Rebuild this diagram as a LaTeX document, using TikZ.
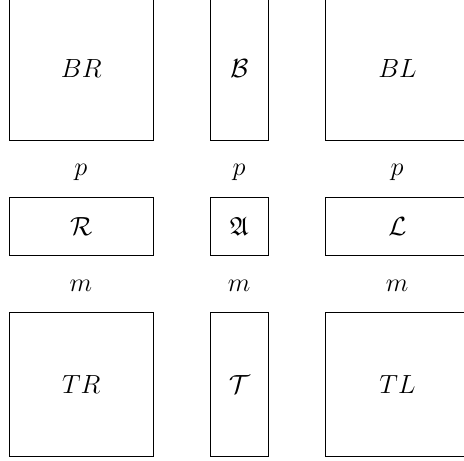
\documentclass[tikz,border=0pt]{standalone}
\usepackage{fix-cm}
\usepackage{amssymb}
\begin{document}
\begin{tikzpicture}[blk/.style={draw,rectangle,inner sep=0pt,anchor=south west},
        big/.style={blk,minimum size=2.5cm},
        tall/.style={blk,minimum width=1cm,minimum height=2.5cm},
        wide/.style={blk,minimum width=2.5cm,minimum height=1cm},
        small/.style={blk,minimum size=1cm},
        every node/.append style={font=\fontsize{13}{16}\selectfont}]
        \useasboundingbox (-0.157,-0.069) rectangle (7.913,7.948);
        %% Top row
        \node[big] (BR) at (0,5.5) {$BR$};
        \node[tall] (B) at (3.5,5.5) {$\mathcal{B}$};
        \node[big] (BL) at (5.5,5.5) {$BL$};
        %% Middle row
        \node[wide] (R) at (0,3.5) {$\mathcal{R}$};
        \node[small] (A) at (3.5,3.5) {$\mathfrak{A}$};
        \node[wide] (L) at (5.5,3.5) {$\mathcal{L}$};
        %% Bottom row
        \node[big] (TR) at (0,0) {$TR$};
        \node[tall] (T) at (3.5,0) {$\mathcal{T}$};
        \node[big] (TL) at (5.5,0) {$TL$};
        %% Labels
        \node (pR) at (1.25,4.95) {$p$};
        \node (pA) at (4,4.95) {$p$};
        \node (pL) at (6.75,4.95) {$p$};
        \node (mR) at (1.25,2.97) {$m$};
        \node (mA) at (4,2.97) {$m$};
        \node (mL) at (6.75,2.97) {$m$};
    \end{tikzpicture}
\end{document}
